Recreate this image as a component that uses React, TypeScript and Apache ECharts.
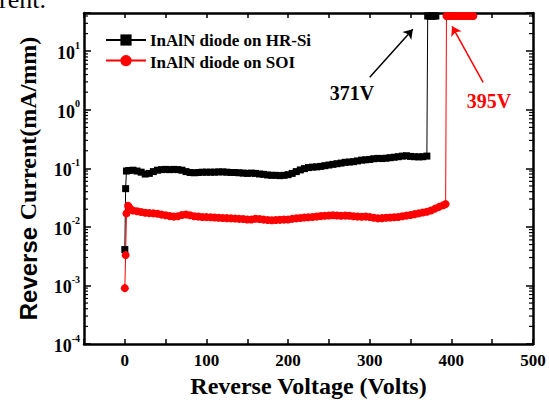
import React, { useEffect, useRef } from "react";
import * as echarts from "echarts";

// Reverse I-V data
const hrSiVoltage = [0, 1, 2, 5, 10, 15, 20, 25, 30, 35, 40, 45, 50, 55, 60, 65, 70, 75, 80, 85, 90, 95, 100, 105, 110, 115, 120, 125, 130, 135, 140, 145, 150, 155, 160, 165, 170, 175, 180, 185, 190, 195, 200, 205, 210, 215, 220, 225, 230, 235, 240, 245, 250, 255, 260, 265, 270, 275, 280, 285, 290, 295, 300, 305, 310, 315, 320, 325, 330, 335, 340, 345, 350, 355, 360, 365, 370, 371, 373, 375, 377, 379, 381];
const hrSiCurrent = [0.0041, 0.045, 0.09, 0.092, 0.093, 0.09, 0.086, 0.08, 0.082, 0.088, 0.093, 0.095, 0.096, 0.095, 0.096, 0.095, 0.093, 0.088, 0.085, 0.084, 0.085, 0.086, 0.086, 0.086, 0.086, 0.087, 0.087, 0.086, 0.085, 0.085, 0.084, 0.083, 0.082, 0.083, 0.082, 0.08, 0.079, 0.077, 0.076, 0.076, 0.075, 0.076, 0.078, 0.082, 0.088, 0.094, 0.099, 0.103, 0.105, 0.106, 0.108, 0.111, 0.114, 0.117, 0.12, 0.123, 0.127, 0.128, 0.13, 0.134, 0.138, 0.14, 0.142, 0.146, 0.148, 0.147, 0.149, 0.152, 0.155, 0.158, 0.162, 0.164, 0.16, 0.158, 0.157, 0.158, 0.162, 40, 40, 40, 40, 40, 40];

const soiVoltage = [0, 1, 2, 4, 6, 10, 15, 20, 25, 30, 35, 40, 45, 50, 55, 60, 65, 70, 75, 80, 85, 90, 95, 100, 105, 110, 115, 120, 125, 130, 135, 140, 145, 150, 155, 160, 165, 170, 175, 180, 185, 190, 195, 200, 205, 210, 215, 220, 225, 230, 235, 240, 245, 250, 255, 260, 265, 270, 275, 280, 285, 290, 295, 300, 305, 310, 315, 320, 325, 330, 335, 340, 345, 350, 355, 360, 365, 370, 375, 380, 385, 390, 393, 394, 397, 400, 403, 406, 409, 412, 415, 418, 421, 424, 427];
const soiCurrent = [0.0009, 0.0033, 0.017, 0.023, 0.021, 0.019, 0.0185, 0.018, 0.0175, 0.0172, 0.017, 0.0168, 0.0162, 0.0158, 0.0153, 0.015, 0.0152, 0.016, 0.0163, 0.0158, 0.0152, 0.015, 0.0148, 0.0147, 0.0146, 0.0145, 0.0143, 0.0142, 0.0141, 0.014, 0.0139, 0.0137, 0.0136, 0.0134, 0.0134, 0.0138, 0.0136, 0.0133, 0.0131, 0.013, 0.0131, 0.0132, 0.0133, 0.0134, 0.0137, 0.014, 0.0142, 0.0145, 0.0146, 0.0148, 0.015, 0.0153, 0.0155, 0.0157, 0.0158, 0.0157, 0.0155, 0.0156, 0.0155, 0.0152, 0.015, 0.0149, 0.015, 0.0148, 0.0143, 0.014, 0.0141, 0.0143, 0.0145, 0.0146, 0.0148, 0.0152, 0.0156, 0.016, 0.0165, 0.017, 0.0176, 0.0182, 0.019, 0.0205, 0.022, 0.0235, 0.0245, 40, 40, 40, 40, 40, 40, 40, 40, 40, 40, 40, 40, 40];

const seriesNames = ["InAlN diode on HR-Si", "InAlN diode on SOI"];
const annotationTexts = ["371V", "395V"];
// arrow start / end in data coordinates [voltage, current]
const hrSiArrow = [[300, 3.6], [352.8, 23.8]];
const soiArrow = [[438.9, 2.95], [400.9, 26.7]];

const X_MIN = -50;
const X_MAX = 500;
const X_INTERVAL = 50;
const Y_MIN = 1e-4;
const Y_MAX = 45;
const decadeExponents = [-4, -3, -2, -1, 0, 1];
const minorMultipliers = [2, 3, 4, 5, 6, 7, 8, 9];

const SERIF = "Liberation Serif";
const SANS = "Liberation Sans";

export default function App() {
  const ref = useRef<HTMLDivElement>(null);
  useEffect(() => {
    if (!ref.current) return;
    const chart = echarts.init(ref.current, undefined, { renderer: "svg" });

    const minorTickValues: number[][] = [];
    decadeExponents.forEach((e) => {
      minorMultipliers.forEach((m) => {
        const v = m * Math.pow(10, e);
        if (v < Y_MAX) minorTickValues.push([X_MIN, v]);
      });
    });

    const logLabel = (v: number) => {
      const l = Math.log10(v);
      const e = Math.round(l);
      if (Math.abs(l - e) > 1e-6) return "";
      return `{b|10}{s|${e}}`;
    };

    const xCommon = {
      type: "value" as const,
      min: X_MIN,
      max: X_MAX,
      interval: X_INTERVAL,
      splitLine: { show: false },
      axisLine: { show: true, onZero: false, lineStyle: { color: "#000", width: 2.5 } },
      axisTick: { show: true, inside: true, length: 5, lineStyle: { color: "#000", width: 1.5 } },
    };
    const yCommon = {
      type: "log" as const,
      logBase: 10,
      min: Y_MIN,
      max: Y_MAX,
      splitLine: { show: false },
      axisLine: { show: true, onZero: false, lineStyle: { color: "#000", width: 2.5 } },
      axisTick: { show: true, inside: true, length: 7, lineStyle: { color: "#000", width: 1.5 } },
    };

    const legendText = (i: number, y: number) => ({
      type: "text",
      x: 150,
      y,
      style: { text: seriesNames[i], fontFamily: SERIF, fontWeight: "bold", fontSize: 17, fill: "#000", align: "left", verticalAlign: "middle" },
    });

    chart.setOption({
      animation: false,
      backgroundColor: "#fff",
      grid: { left: 84, right: 16, top: 13, bottom: 56, containLabel: false, outerBoundsMode: "none" },
      legend: {
        orient: "vertical",
        left: 105,
        top: 33,
        padding: 0,
        itemWidth: 40,
        itemHeight: 14,
        itemGap: 8,
        data: seriesNames,
        formatter: () => "",
      },
      xAxis: [
        {
          ...xCommon,
          position: "bottom",
          name: "Reverse Voltage (Volts)",
          nameLocation: "middle",
          nameGap: 30,
          nameTextStyle: { fontFamily: SERIF, fontWeight: "bold", fontSize: 24, color: "#000" },
          axisLabel: {
            margin: 8,
            fontFamily: SERIF,
            fontWeight: "bold",
            fontSize: 17,
            color: "#000",
            formatter: (v: number) => (v >= 0 && v % 100 === 0 ? `{t|${v}}` : ""),
            rich: { t: { fontFamily: SERIF, fontWeight: "bold", fontSize: 17, color: "#000" } },
          },
        },
        { ...xCommon, position: "top", axisLabel: { show: false } },
      ],
      yAxis: [
        {
          ...yCommon,
          position: "left",
          name: "{a|Reverse }{b|Current(mA/mm)}",
          nameLocation: "middle",
          nameGap: 44,
          nameTextStyle: {
            color: "#000",
            rich: {
              a: { fontFamily: SANS, fontWeight: "bold", fontSize: 24, color: "#000" },
              b: { fontFamily: SERIF, fontWeight: "bold", fontSize: 24, color: "#000" },
            },
          },
          axisLabel: {
            margin: 4,
            color: "#000",
            formatter: logLabel,
            rich: {
              b: { fontFamily: SERIF, fontWeight: "bold", fontSize: 18, color: "#000", lineHeight: 22, verticalAlign: "bottom" },
              s: { fontFamily: SERIF, fontWeight: "bold", fontSize: 10, color: "#000", lineHeight: 10, verticalAlign: "top" },
            },
          },
        },
        { ...yCommon, position: "right", axisLabel: { show: false } },
      ],
      graphic: [
        {
          type: "text",
          x: 46,
          y: 12,
          style: { text: "Current.", fontFamily: SERIF, fontSize: 26, fill: "#000", align: "right", verticalAlign: "bottom" },
        },
        legendText(0, 40),
        legendText(1, 62),
        {
          type: "text",
          x: 352,
          y: 93,
          style: { text: annotationTexts[0], fontFamily: SERIF, fontWeight: "bold", fontSize: 20, fill: "#000", align: "center", verticalAlign: "middle" },
        },
        {
          type: "text",
          x: 489,
          y: 101,
          style: { text: annotationTexts[1], fontFamily: SERIF, fontWeight: "bold", fontSize: 20, fill: "#ff0000", align: "center", verticalAlign: "middle" },
        },
      ],
      series: [
        {
          name: seriesNames[0],
          type: "line",
          data: hrSiVoltage.map((v, i) => [v, hrSiCurrent[i]]),
          symbol: "rect",
          symbolSize: 7,
          showAllSymbol: true,
          lineStyle: { color: "#000", width: 1 },
          itemStyle: { color: "#000" },
          markLine: {
            silent: true,
            symbol: ["none", "arrow"],
            symbolSize: 9,
            label: { show: false },
            lineStyle: { color: "#000", width: 1.5, type: "solid" },
            data: [[{ coord: hrSiArrow[0] }, { coord: hrSiArrow[1] }]],
          },
          z: 3,
        },
        {
          name: seriesNames[1],
          type: "line",
          data: soiVoltage.map((v, i) => [v, soiCurrent[i]]),
          symbol: "circle",
          symbolSize: 8,
          showAllSymbol: true,
          lineStyle: { color: "#ff0000", width: 1 },
          itemStyle: { color: "#ff0000" },
          markLine: {
            silent: true,
            symbol: ["none", "arrow"],
            symbolSize: 9,
            label: { show: false },
            lineStyle: { color: "#ff0000", width: 1.5, type: "solid" },
            data: [[{ coord: soiArrow[0] }, { coord: soiArrow[1] }]],
          },
          z: 3,
        },
        {
          type: "custom",
          coordinateSystem: "cartesian2d",
          xAxisIndex: 0,
          yAxisIndex: 0,
          silent: true,
          data: minorTickValues,
          renderItem: (_params: any, api: any) => {
            const v = api.value(1);
            const l = api.coord([X_MIN, v]);
            const r = api.coord([X_MAX, v]);
            const st = { stroke: "#000", lineWidth: 1.2 };
            return {
              type: "group",
              children: [
                { type: "line", shape: { x1: l[0], y1: l[1], x2: l[0] + 4, y2: l[1] }, style: st },
                { type: "line", shape: { x1: r[0], y1: r[1], x2: r[0] - 4, y2: r[1] }, style: st },
              ],
            };
          },
          z: 4,
        },
      ],
    });
    return () => chart.dispose();
  }, []);
  return <div ref={ref} style={{ position: "fixed", left: 0, top: 0, width: 549, height: 400 }} />;
}
